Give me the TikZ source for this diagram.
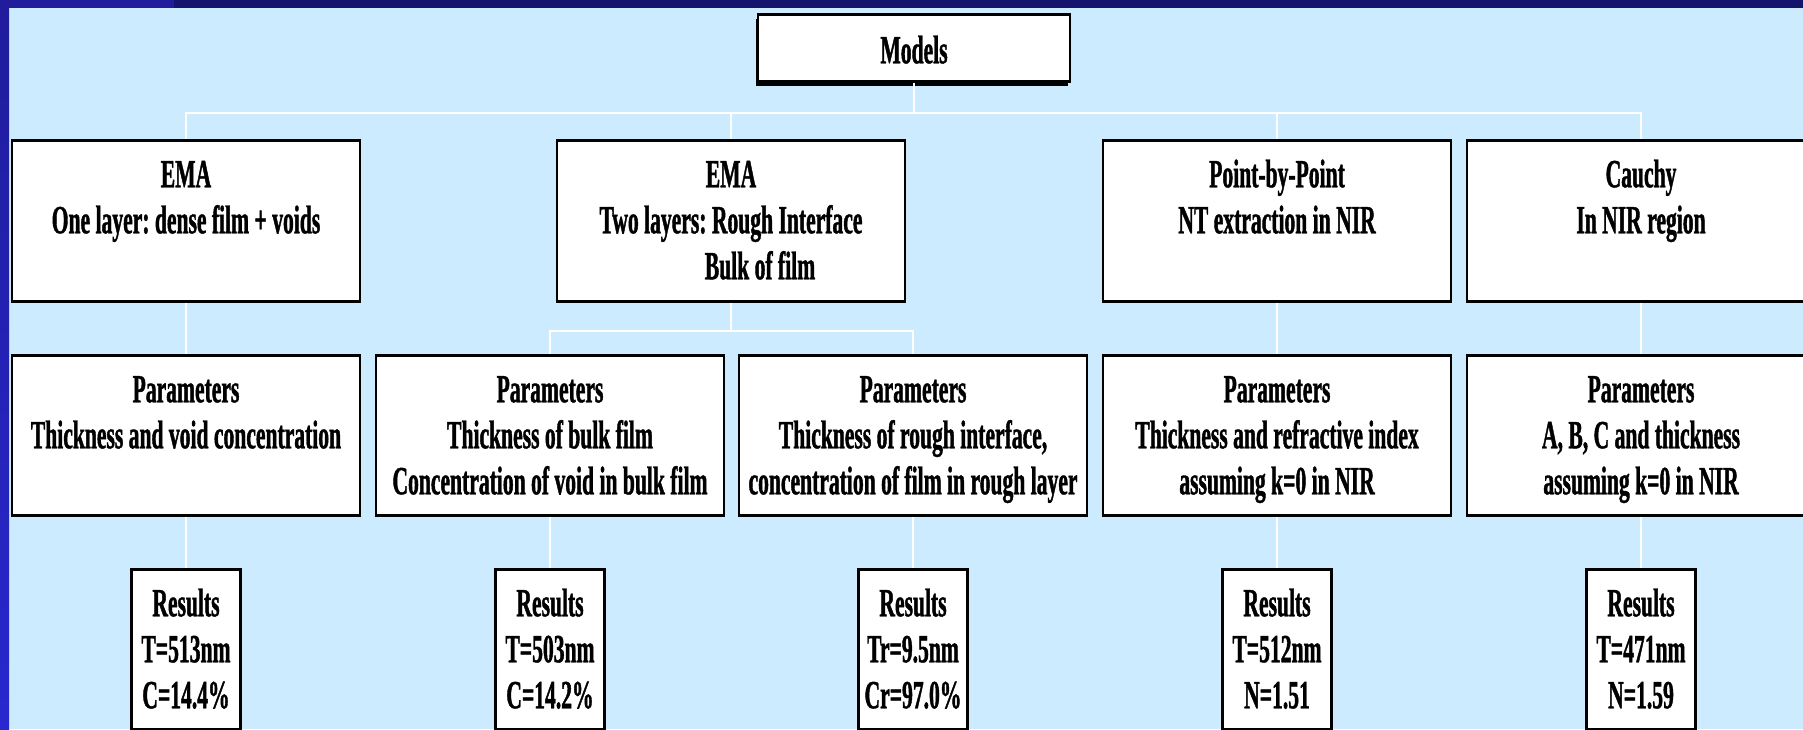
\documentclass[tikz,border=0pt]{standalone}
\usepackage{fontspec}
\newfontfamily\slidefont{Liberation Serif Bold}[FakeStretch=0.54, FakeBold=1]
\newcommand\slidetext{\slidefont\fontsize{40}{46}\selectfont}
\usetikzlibrary{positioning, shadows}
\definecolor{PaleSky}{RGB}{204,235,254}
\definecolor{FrameNavy}{RGB}{20,20,110}
\definecolor{FrameBlue}{RGB}{32,28,156}
\definecolor{StripDark}{RGB}{4,4,40}
\definecolor{StripBlue}{RGB}{40,40,206}
\tikzset{
    boxbase/.style={draw=black, line width=2.5pt, fill=white, align=flush center, font=\slidetext,
        execute at begin node={\spaceskip=5.4pt\xspaceskip=5.4pt\relax},
        inner xsep=0pt, inner ysep=0pt, anchor=north, text height=47pt},
    modelbox/.style={boxbase, text width=348pt, text depth=114pt},
    parambox/.style={boxbase, text width=348pt, text depth=113pt},
    resultbox/.style={boxbase, text width=109pt, text depth=113pt},
    wire/.style={draw=white, line width=2pt}
}
\begin{document}
\begin{tikzpicture}[x=1pt, y=-1pt]
    \useasboundingbox (0,0) rectangle (1803,729);
    \clip (0,0) rectangle (1803,729);
    % slide background and frame
    \fill[PaleSky] (0,0) rectangle (1803,729);
    \fill[FrameNavy] (0,0) rectangle (1803,8);
    \fill[FrameBlue] (0,0) rectangle (174,8);
    \shade[top color=FrameBlue, middle color=StripDark, bottom color=StripBlue] (0,8) rectangle (9,729);

    % top
    \node[boxbase, text width=312pt, text height=49pt, text depth=18pt,
          drop shadow={shadow xshift=-2pt, shadow yshift=-5pt, fill=black, opacity=1}]
          (models) at (914,13) {Models};

    % models
    \node[modelbox] (ema1) at (186,139) {EMA\\One layer: dense film + voids};
    \node[modelbox] (ema2) at (731,139) {EMA\\Two layers: Rough Interface\\\hspace*{58pt}Bulk of film};
    \node[modelbox] (pbp) at (1277,139) {Point-by-Point\\NT extraction in NIR};
    \node[modelbox] (cauchy) at (1641,139) {Cauchy\\In NIR region};

    % parameters
    \node[parambox] (par1) at (186,354) {Parameters\\Thickness and void concentration};
    \node[parambox] (par2) at (550,354) {Parameters\\Thickness of bulk film\\Concentration of void in bulk film};
    \node[parambox] (par3) at (913,354) {Parameters\\Thickness of rough interface,\\concentration of film in rough layer};
    \node[parambox] (par4) at (1277,354) {Parameters\\Thickness and refractive index\\assuming k=0 in NIR};
    \node[parambox] (par5) at (1641,354) {Parameters\\A, B, C and thickness\\assuming k=0 in NIR};

    % results
    \node[resultbox] (res1) at (186,568) {Results\\T=513nm\\C=14.4\%};
    \node[resultbox] (res2) at (550,568) {Results\\T=503nm\\C=14.2\%};
    \node[resultbox] (res3) at (913,568) {Results\\Tr=9.5nm\\Cr=97.0\%};
    \node[resultbox] (res4) at (1277,568) {Results\\T=512nm\\N=1.51};
    \node[resultbox] (res5) at (1641,568) {Results\\T=471nm\\N=1.59};

    % connectors
    \coordinate (bus) at (914,113);
    \coordinate (split) at (731,331);
    \draw[wire] (models.south) -- (bus);
    \foreach \m in {ema1, ema2, pbp, cauchy}
        \draw[wire] (bus) -| (\m.north);
    \draw[wire] (ema2.south) -- (split);
    \draw[wire] (split) -| (par2.north);
    \draw[wire] (split) -| (par3.north);
    \draw[wire] (ema1.south) -- (par1.north);
    \draw[wire] (pbp.south) -- (par4.north);
    \draw[wire] (cauchy.south) -- (par5.north);
    \foreach \i in {1,...,5}
        \draw[wire] (par\i.south) -- (res\i.north);
\end{tikzpicture}
\end{document}
